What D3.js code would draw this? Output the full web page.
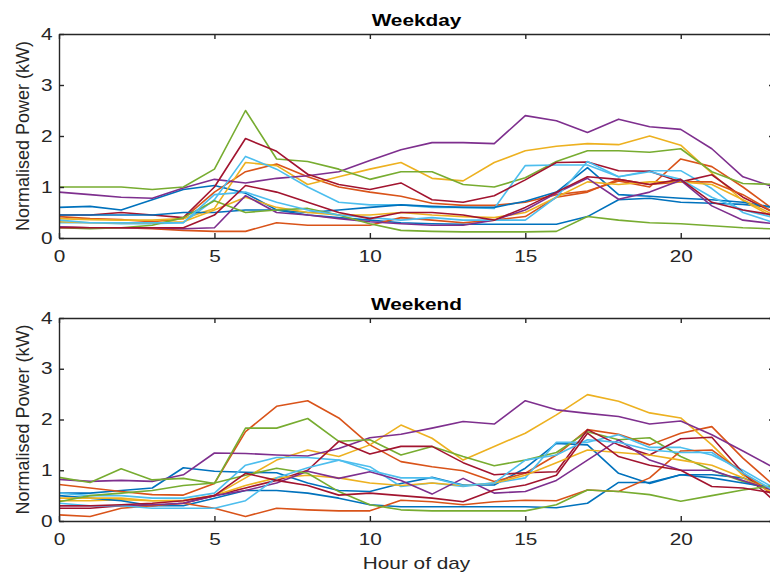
<!DOCTYPE html>
<html>
<head>
<meta charset="utf-8">
<script src="https://cdn.jsdelivr.net/npm/d3@7"></script>
<style>
    body { margin: 0; background: #fff; }
    svg { display: block; font-family: "Liberation Sans", Arial, sans-serif; }
    .axis text { font-size: 16px; fill: #262626; }
    .axis path, .axis line { stroke: #262626; stroke-width: 1.4; }
</style>
</head>
<body>
<div id="chart"></div>
<script>

// x categories and ticks
const hours = [0, 1, 2, 3, 4, 5, 6, 7, 8, 9, 10, 11, 12, 13, 14, 15, 16, 17, 18, 19, 20, 21, 22, 23];
const xTicks = [0, 5, 10, 15, 20];
const yTicks = [0, 1, 2, 3, 4];

// matlab default colour order
const lineColors = ["#0072BD", "#D95319", "#EDB120", "#7E2F8E", "#77AC30", "#4DBEEE", "#A2142F"];

// Weekday profiles (kW)
const wdBlue1      = [0.60, 0.62, 0.55, 0.75, 0.95, 1.03, 0.88, 0.55, 0.45, 0.40, 0.35, 0.30, 0.28, 0.27, 0.27, 0.27, 0.27, 0.42, 0.75, 0.78, 0.70, 0.68, 0.66, 0.60];
const wdOrange1    = [0.42, 0.38, 0.36, 0.32, 0.38, 0.90, 1.30, 1.45, 1.20, 1.00, 0.90, 0.82, 0.68, 0.64, 0.64, 0.70, 0.85, 0.92, 1.12, 1.00, 1.55, 1.40, 1.00, 0.55];
const wdYellow1    = [0.38, 0.36, 0.35, 0.35, 0.38, 0.58, 1.48, 1.42, 1.05, 1.20, 1.35, 1.48, 1.17, 1.12, 1.48, 1.71, 1.80, 1.85, 1.83, 2.00, 1.82, 1.27, 0.73, 0.40];
const wdPurple1    = [0.90, 0.85, 0.80, 0.78, 0.98, 1.15, 1.08, 1.17, 1.22, 1.30, 1.52, 1.73, 1.87, 1.87, 1.85, 2.40, 2.30, 2.07, 2.33, 2.18, 2.13, 1.75, 1.20, 1.00];
const wdGreen1     = [1.00, 1.00, 1.00, 0.95, 1.00, 1.35, 2.50, 1.55, 1.50, 1.35, 1.15, 1.30, 1.30, 1.05, 1.00, 1.18, 1.50, 1.71, 1.71, 1.68, 1.75, 1.30, 1.07, 1.05];
const wdLightBlue1 = [0.30, 0.30, 0.28, 0.28, 0.30, 0.75, 1.60, 1.35, 1.00, 0.70, 0.65, 0.65, 0.60, 0.60, 0.58, 1.42, 1.43, 1.43, 1.20, 1.32, 1.32, 0.97, 0.50, 0.30];
const wdDarkRed1   = [0.45, 0.45, 0.50, 0.45, 0.40, 1.00, 1.95, 1.70, 1.25, 1.05, 0.95, 1.08, 0.75, 0.70, 0.83, 1.14, 1.48, 1.49, 1.32, 1.31, 1.10, 1.24, 0.80, 0.50];
const wdBlue2      = [0.45, 0.45, 0.45, 0.45, 0.50, 0.50, 0.55, 0.55, 0.50, 0.55, 0.60, 0.65, 0.62, 0.60, 0.60, 0.72, 0.90, 1.38, 0.85, 0.82, 0.78, 0.75, 0.70, 0.60];
const wdOrange2    = [0.22, 0.20, 0.20, 0.18, 0.15, 0.13, 0.13, 0.30, 0.25, 0.25, 0.25, 0.40, 0.35, 0.30, 0.35, 0.42, 0.80, 0.90, 1.15, 1.05, 1.10, 1.10, 0.85, 0.50];
const wdYellow2    = [0.32, 0.30, 0.30, 0.30, 0.32, 0.55, 0.80, 0.60, 0.50, 0.45, 0.45, 0.50, 0.45, 0.42, 0.40, 0.50, 0.80, 1.10, 1.05, 1.10, 1.10, 1.05, 0.75, 0.45];
const wdPurple2    = [0.22, 0.20, 0.20, 0.20, 0.18, 0.20, 0.83, 0.50, 0.45, 0.38, 0.32, 0.28, 0.25, 0.25, 0.35, 0.55, 0.88, 1.17, 0.76, 0.90, 1.13, 0.63, 0.35, 0.28];
const wdGreen2     = [0.20, 0.18, 0.20, 0.25, 0.40, 0.73, 0.50, 0.55, 0.58, 0.45, 0.28, 0.15, 0.13, 0.12, 0.12, 0.12, 0.13, 0.42, 0.35, 0.30, 0.28, 0.24, 0.20, 0.18];
const wdLightBlue2 = [0.35, 0.30, 0.30, 0.30, 0.30, 0.85, 0.90, 0.70, 0.55, 0.45, 0.40, 0.35, 0.40, 0.35, 0.35, 0.35, 0.80, 1.50, 1.20, 1.30, 1.15, 0.80, 0.55, 0.40];
const wdDarkRed2   = [0.20, 0.20, 0.20, 0.20, 0.20, 0.45, 1.03, 0.90, 0.70, 0.50, 0.38, 0.50, 0.50, 0.45, 0.35, 0.60, 0.90, 1.20, 1.15, 1.05, 1.15, 0.70, 0.55, 0.45];

// Weekend profiles (kW)
const weBlue1      = [0.55, 0.55, 0.60, 0.65, 1.05, 0.98, 0.96, 0.95, 0.75, 0.60, 0.58, 0.74, 0.86, 0.71, 0.71, 1.04, 1.53, 1.50, 0.94, 0.74, 0.91, 0.91, 0.85, 0.60];
const weOrange1    = [0.72, 0.65, 0.58, 0.52, 0.51, 0.74, 1.76, 2.26, 2.37, 2.03, 1.50, 1.17, 1.07, 0.99, 0.78, 0.94, 1.30, 1.80, 1.71, 1.50, 1.73, 1.86, 1.24, 0.70];
const weYellow1    = [0.40, 0.40, 0.42, 0.40, 0.41, 0.50, 0.85, 1.20, 1.40, 1.27, 1.50, 1.89, 1.63, 1.20, 1.47, 1.73, 2.09, 2.49, 2.36, 2.13, 2.03, 1.50, 0.90, 0.60];
const wePurple1    = [0.82, 0.78, 0.80, 0.78, 0.91, 1.34, 1.33, 1.30, 1.28, 1.43, 1.64, 1.71, 1.83, 1.96, 1.91, 2.37, 2.19, 2.12, 2.06, 1.91, 1.97, 1.70, 1.38, 1.05];
const weGreen1     = [0.86, 0.76, 1.03, 0.81, 0.84, 0.74, 1.83, 1.83, 2.02, 1.57, 1.60, 1.30, 1.47, 1.27, 1.09, 1.20, 1.35, 1.76, 1.60, 1.64, 1.27, 1.00, 0.78, 0.60];
const weLightBlue1 = [0.55, 0.50, 0.50, 0.45, 0.45, 0.55, 1.10, 1.25, 1.25, 1.20, 1.07, 0.68, 0.75, 0.68, 0.75, 0.85, 1.55, 1.55, 1.70, 1.45, 1.45, 1.30, 1.00, 0.65];
const weDarkRed1   = [0.25, 0.25, 0.30, 0.30, 0.35, 0.50, 0.65, 0.80, 1.00, 1.57, 1.32, 1.47, 1.47, 1.15, 0.91, 0.95, 0.97, 1.80, 1.50, 1.30, 1.62, 1.65, 0.95, 0.40];
const weBlue2      = [0.50, 0.45, 0.40, 0.30, 0.30, 0.45, 0.60, 0.60, 0.55, 0.45, 0.32, 0.28, 0.28, 0.28, 0.28, 0.28, 0.26, 0.35, 0.76, 0.76, 0.91, 0.85, 0.75, 0.65];
const weOrange2    = [0.12, 0.09, 0.25, 0.30, 0.35, 0.25, 0.09, 0.25, 0.22, 0.20, 0.20, 0.41, 0.38, 0.32, 0.38, 0.41, 0.40, 0.61, 0.58, 0.85, 1.38, 1.40, 0.95, 0.50];
const weYellow2    = [0.45, 0.45, 0.45, 0.40, 0.40, 0.50, 0.70, 0.85, 0.90, 0.85, 0.75, 0.70, 0.75, 0.70, 0.75, 0.90, 1.15, 1.40, 1.35, 1.30, 1.20, 1.10, 0.85, 0.55];
const wePurple2    = [0.30, 0.30, 0.30, 0.32, 0.35, 0.50, 0.60, 0.75, 0.98, 0.84, 0.97, 0.80, 0.53, 0.84, 0.55, 0.58, 0.80, 1.20, 1.60, 1.20, 1.00, 1.00, 0.80, 0.60];
const weGreen2     = [0.38, 0.50, 0.55, 0.60, 0.70, 0.75, 0.90, 1.04, 0.94, 0.58, 0.32, 0.22, 0.20, 0.20, 0.20, 0.20, 0.32, 0.61, 0.58, 0.52, 0.39, 0.50, 0.61, 0.70];
const weLightBlue2 = [0.35, 0.30, 0.30, 0.25, 0.25, 0.25, 0.40, 0.85, 1.05, 1.20, 1.00, 0.85, 0.85, 0.70, 0.75, 1.20, 1.30, 1.60, 1.55, 1.40, 1.35, 1.35, 0.95, 0.60];
const weDarkRed2   = [0.30, 0.30, 0.32, 0.35, 0.40, 0.50, 0.94, 0.80, 0.70, 0.51, 0.55, 0.50, 0.45, 0.38, 0.61, 0.71, 0.90, 1.73, 1.27, 1.10, 1.00, 0.68, 0.65, 0.55];

const weekdaySeries = [wdBlue1, wdOrange1, wdYellow1, wdPurple1, wdGreen1, wdLightBlue1, wdDarkRed1,
                       wdBlue2, wdOrange2, wdYellow2, wdPurple2, wdGreen2, wdLightBlue2, wdDarkRed2];
const weekendSeries = [weBlue1, weOrange1, weYellow1, wePurple1, weGreen1, weLightBlue1, weDarkRed1,
                       weBlue2, weOrange2, weYellow2, wePurple2, weGreen2, weLightBlue2, weDarkRed2];

const svg = d3.select("#chart").append("svg")
    .attr("width", 770)
    .attr("height", 575);

// text in the source figure is stretched sideways
const stretch = "scale(1.3,1)";

function drawPanel(id, title, series, top, bottom, xLabel) {
    let left = 59, right = 774;

    let x = d3.scaleLinear().domain([0, 23]).range([left, right]);
    let y = d3.scaleLinear().domain([0, 4]).range([bottom, top]);

    svg.append("clipPath").attr("id", "clip-" + id)
        .append("rect")
        .attr("x", left).attr("y", top)
        .attr("width", right - left).attr("height", bottom - top);

    let line = d3.line()
        .x((d, i) => x(hours[i]))
        .y(d => y(d));

    svg.append("g")
        .attr("clip-path", "url(#clip-" + id + ")")
        .selectAll("path")
        .data(series)
        .enter().append("path")
        .attr("d", line)
        .attr("fill", "none")
        .attr("stroke", (d, i) => lineColors[i % lineColors.length])
        .attr("stroke-width", 1.6)
        .attr("stroke-linejoin", "round");

    // axes, ticks pointing inwards like matlab
    let gx = svg.append("g").attr("class", "axis")
        .attr("transform", "translate(0," + bottom + ")")
        .call(d3.axisBottom(x).tickValues(xTicks).tickFormat(d3.format("d"))
            .tickSizeInner(-5).tickSizeOuter(0).tickPadding(13));
    gx.selectAll("text").attr("transform", stretch);

    let gy = svg.append("g").attr("class", "axis")
        .attr("transform", "translate(" + left + ",0)")
        .call(d3.axisLeft(y).tickValues(yTicks).tickFormat(d3.format("d"))
            .tickSizeInner(-5).tickSizeOuter(0).tickPadding(5));
    gy.selectAll("text").attr("transform", stretch);

    svg.append("g").attr("class", "axis")
        .attr("transform", "translate(0," + top + ")")
        .call(d3.axisTop(x).tickValues(xTicks).tickSizeInner(-5).tickSizeOuter(0).tickFormat(""));

    svg.append("g").attr("class", "axis")
        .attr("transform", "translate(" + right + ",0)")
        .call(d3.axisRight(y).tickValues(yTicks).tickSizeInner(-5).tickSizeOuter(0).tickFormat(""));

    // title
    svg.append("text")
        .attr("transform", "translate(" + (left + right) / 2 + "," + (top - 8) + ") " + stretch)
        .attr("text-anchor", "middle")
        .attr("font-size", 16)
        .attr("font-weight", "bold")
        .attr("fill", "#000")
        .text(title);

    // y label
    svg.append("text")
        .attr("transform", "translate(29," + (top + bottom) / 2 + ") rotate(-90)")
        .attr("text-anchor", "middle")
        .attr("font-size", 18)
        .attr("fill", "#262626")
        .text("Normalised Power (kW)");

    if (xLabel) {
        svg.append("text")
            .attr("transform", "translate(" + (left + right) / 2 + "," + (bottom + 48) + ") " + stretch)
            .attr("text-anchor", "middle")
            .attr("font-size", 16)
            .attr("fill", "#262626")
            .text(xLabel);
    }
}

drawPanel("weekday", "Weekday", weekdaySeries, 34, 238, null);
drawPanel("weekend", "Weekend", weekendSeries, 318, 521, "Hour of day");

</script>
</body>
</html>
